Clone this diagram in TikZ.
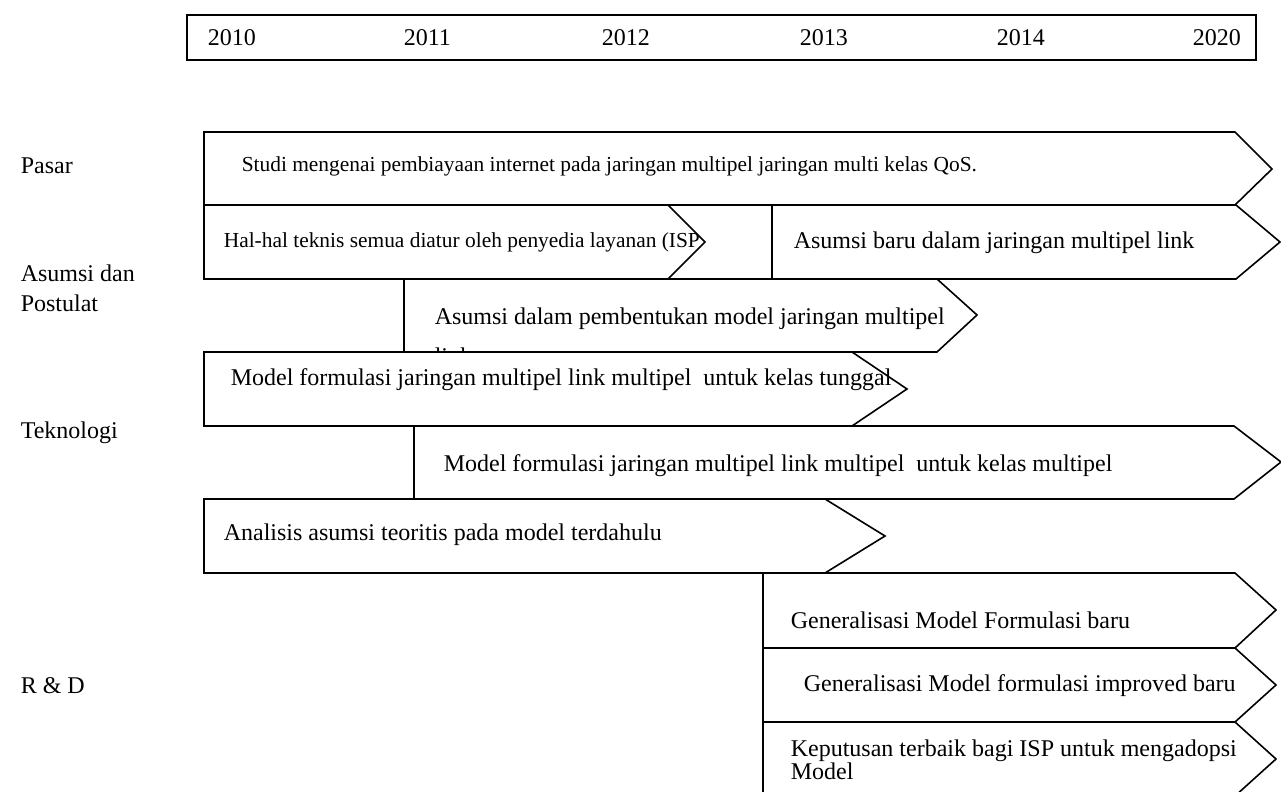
\documentclass[tikz,border=0pt]{standalone}
\usepackage{fontspec}
\setmainfont{Liberation Serif}

\begin{document}
\begin{tikzpicture}[x=0.5pt, y=-0.5pt, line width=0.8pt,
    every node/.style={inner sep=0pt, anchor=west, font=\fontsize{12}{14}\selectfont},
    small/.style={font=\fontsize{10.7}{13}\selectfont}]
    \useasboundingbox (0,0) rectangle (1281,792);

    % baris tahun
    \draw (187,15) rectangle (1256,60);
    \node (y2010) at (207,38) {2010};
    \node (y2011) at (403,38) {2011};
    \node (y2012) at (601,38) {2012};
    \node (y2013) at (799,38) {2013};
    \node (y2014) at (996,38) {2014};
    \node (y2020) at (1192,38) {2020};

    % label kiri
    \node (pasar) at (20,166) {Pasar};
    \node[align=left, font=\fontsize{12}{14.8}\selectfont] (asumsi) at (20,288) {Asumsi dan\\Postulat};
    \node (teknologi) at (20,433) {Teknologi};
    \node (rnd) at (20,686) {R \& D};

    % pasar
    \draw (204,132) -- (1235,132) -- (1272,169) -- (1235,205) -- (204,205) -- cycle;
    \node[small] (studi) at (241,166) {Studi mengenai pembiayaan internet pada jaringan multipel jaringan multi kelas QoS.};

    % asumsi dan postulat
    \draw (204,205) -- (668,205) -- (705,242) -- (668,279) -- (204,279) -- cycle;
    \node[small] (teknis) at (223,242) {Hal-hal teknis semua diatur oleh penyedia layanan (ISP};
    \draw (772,205) -- (1236,205) -- (1280,242) -- (1236,279) -- (772,279) -- cycle;
    \node (baru) at (793,243) {Asumsi baru dalam jaringan multipel link};
    \draw (404,279) -- (937,279) -- (977,315) -- (937,352) -- (404,352) -- cycle;
    \begin{scope}
        \clip (404,279) rectangle (977,351);
        \node[anchor=base west, align=left, font=\fontsize{12}{20}\selectfont] (bentuk) at (434,364)
            {Asumsi dalam pembentukan model jaringan multipel\\link};
    \end{scope}

    % teknologi
    \draw (204,352) -- (852,352) -- (907,389) -- (852,426) -- (204,426) -- cycle;
    \node (tunggal) at (230,380) {Model formulasi jaringan multipel link multipel~ untuk kelas tunggal};
    \draw (414,426) -- (1234,426) -- (1281,462) -- (1234,499) -- (414,499) -- cycle;
    \node (multi) at (443,466) {Model formulasi jaringan multipel link multipel~ untuk kelas multipel};
    \draw (204,499) -- (825,499) -- (885,536) -- (825,573) -- (204,573) -- cycle;
    \node (analisis) at (223,535) {Analisis asumsi teoritis pada model terdahulu};

    % r & d
    \draw (763,573) -- (1235,573) -- (1276,610) -- (1235,648) -- (763,648) -- cycle;
    \node (gen) at (790,620) {Generalisasi Model Formulasi baru};
    \draw (763,648) -- (1235,648) -- (1276,685) -- (1235,722) -- (763,722) -- cycle;
    \node (improved) at (803,686) {Generalisasi Model formulasi improved baru};
    \draw (763,722) -- (1235,722) -- (1276,759) -- (1235,796) -- (763,796) -- cycle;
    \node[align=left, font=\fontsize{12}{11.5}\selectfont] (adopsi) at (790,760)
        {Keputusan terbaik bagi ISP untuk mengadopsi\\Model};
\end{tikzpicture}
\end{document}
